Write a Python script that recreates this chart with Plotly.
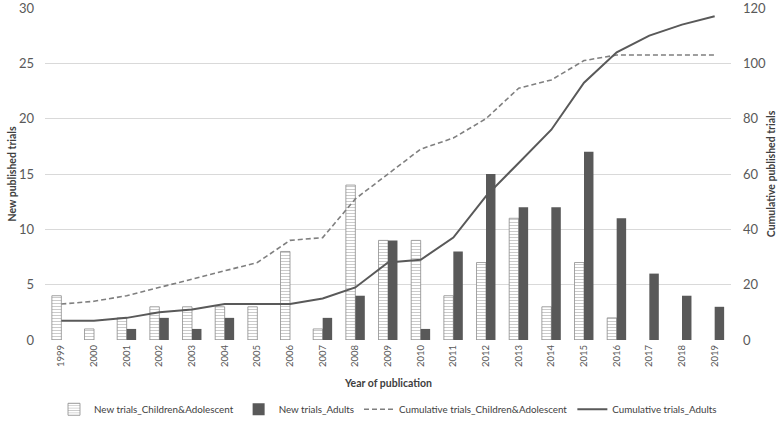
import plotly.graph_objects as go

years = [str(y) for y in range(1999, 2020)]
new_children = [4, 1, 2, 3, 3, 3, 3, 8, 1, 14, 9, 9, 4, 7, 11, 3, 7, 2, 0, 0, 0]
new_adults = [0, 0, 1, 2, 1, 2, 0, 0, 2, 4, 9, 1, 8, 15, 12, 12, 17, 11, 6, 4, 3]
cum_children = [13, 14, 16, 19, 22, 25, 28, 36, 37, 51, 60, 69, 73, 80, 91, 94, 101, 103, 103, 103, 103]
cum_adults = [7, 7, 8, 10, 11, 13, 13, 13, 15, 19, 28, 29, 37, 52, 64, 76, 93, 104, 110, 114, 117]

FONT = "Lato"
TICK = "#595959"
TITLE = "#404040"

fig = go.Figure()
fig.add_trace(go.Bar(
    x=years, y=new_children, name="New trials_Children&Adolescent",
    marker=dict(color="white",
                line=dict(color="#8c8c8c", width=[0.8 if v > 0 else 0 for v in new_children]),
                pattern=dict(shape="-", fgcolor="#8c8c8c", bgcolor="white", size=3, solidity=0.3)),
    yaxis="y"))
fig.add_trace(go.Bar(
    x=years, y=new_adults, name="New trials_Adults",
    marker=dict(color="#595959", line=dict(width=0)),
    yaxis="y"))
fig.add_trace(go.Scatter(
    x=years, y=cum_children, name="Cumulative trials_Children&Adolescent",
    mode="lines", line=dict(color="#7f7f7f", width=1.6, dash="5px,3px"),
    yaxis="y2"))
fig.add_trace(go.Scatter(
    x=years, y=cum_adults, name="Cumulative trials_Adults",
    mode="lines", line=dict(color="#595959", width=2),
    yaxis="y2"))

fig.update_layout(
    width=778, height=422,
    margin=dict(l=45, r=47, t=8, b=82, autoexpand=False),
    paper_bgcolor="white", plot_bgcolor="white",
    font=dict(family=FONT, color=TICK),
    barmode="group", bargap=0.42, bargroupgap=0,
    xaxis=dict(type="category", tickangle=-90, tickfont=dict(size=9.5, color=TICK),
               showgrid=False, showline=False, ticks="", zeroline=False,
               ticklabelstandoff=2, automargin=False),
    yaxis=dict(range=[0, 30], dtick=5, showgrid=True, gridcolor="#d9d9d9", gridwidth=1,
               zeroline=False, tickfont=dict(size=13, color=TICK), ticks="",
               ticklabelstandoff=10, automargin=False, ticklabeloverflow="allow",
               title=dict(text="<b>New published trials</b>", font=dict(size=10.5, color=TITLE), standoff=0)),
    yaxis2=dict(range=[0, 120], dtick=20, overlaying="y", side="right", showgrid=False,
                zeroline=False, tickfont=dict(size=13, color=TICK), ticks="",
                ticklabelstandoff=11, automargin=False, ticklabeloverflow="allow",
                title=dict(text="<b>Cumulative published trials</b>", font=dict(size=10.5, color=TITLE), standoff=2)),
    legend=dict(orientation="h", x=0.5, xanchor="center", y=-0.165, yanchor="top",
                font=dict(size=9.8, color=TITLE), traceorder="normal", itemwidth=30),
    annotations=[dict(text="<b>Year of publication</b>", x=0.5, xref="paper", y=-0.131, yref="paper",
                      xanchor="center", yanchor="middle", showarrow=False,
                      font=dict(size=10.5, color=TITLE))],
)

fig.write_html("out.html", config={"displayModeBar": False},
               post_script="document.body.style.margin='0';")
